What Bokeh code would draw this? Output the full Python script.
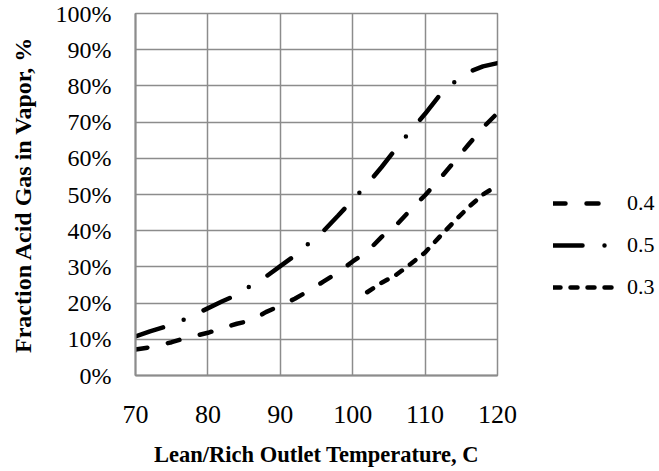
from bokeh.plotting import figure
from bokeh.models import Legend, LegendItem, PrintfTickFormatter, FixedTicker
from bokeh.embed import file_html
from bokeh.resources import INLINE

# ---- data ----
temp_04 = [70, 72, 75, 77, 80, 84, 86, 88, 90, 92, 94, 96, 98, 100, 102, 104, 106, 108, 110, 112, 114, 116, 118, 120]
frac_04 = [7.2, 7.8, 9.2, 10.4, 11.8, 14.3, 15.2, 17.5, 19.3, 21.2, 23.5, 26.0, 28.5, 31.5, 34.2, 38.3, 41.5, 45.8, 49.8, 54.3, 59.0, 63.8, 68.5, 72.5]

temp_05 = [70, 72, 75, 77, 79, 82, 84, 86, 88, 90, 92, 94, 96, 98, 100, 102, 104, 106, 108, 110, 112, 114, 116, 118, 120]
frac_05 = [10.8, 12.2, 14.0, 15.7, 17.6, 20.5, 22.3, 24.9, 27.3, 30.2, 33.1, 36.6, 40.0, 44.2, 48.5, 52.8, 57.6, 62.7, 67.6, 72.3, 77.4, 81.0, 83.8, 85.4, 86.3]

temp_03 = [102, 104, 106, 108, 110, 112, 114, 116, 118, 120]
frac_03 = [23.0, 25.6, 27.8, 30.8, 34.0, 38.3, 42.5, 46.5, 50.0, 52.5]

x_ticks = [70, 80, 90, 100, 110, 120]
y_ticks = [0, 10, 20, 30, 40, 50, 60, 70, 80, 90, 100]

FONT = "Liberation Serif"
GRID = "#8c8c8c"

p = figure(width=659, height=471, output_backend="svg", toolbar_location=None,
           x_range=(70, 120), y_range=(0, 100),
           min_border_left=135, min_border_right=162, min_border_top=13, min_border_bottom=96)
p.frame_width = 362
p.frame_height = 362

p.outline_line_color = GRID
p.outline_line_width = 1.5

p.xaxis.ticker = FixedTicker(ticks=x_ticks)
p.yaxis.ticker = FixedTicker(ticks=y_ticks)
p.yaxis.formatter = PrintfTickFormatter(format="%d%%")

for ax in (p.xaxis[0], p.yaxis[0]):
    ax.axis_line_color = GRID
    ax.axis_line_width = 2
    ax.major_tick_line_color = None
    ax.minor_tick_line_color = None
    ax.major_label_text_font = FONT
    ax.major_label_text_color = "black"
    ax.axis_label_text_font = FONT
    ax.axis_label_text_color = "black"
    ax.axis_label_text_font_style = "bold"

p.xaxis.major_label_text_font_size = "26px"
p.yaxis.major_label_text_font_size = "24px"
p.xaxis.major_label_standoff = 24
p.yaxis.major_label_standoff = 18
p.xaxis.axis_label = "Lean/Rich Outlet Temperature, C"
p.yaxis.axis_label = "Fraction Acid Gas in Vapor, %"
p.xaxis.axis_label_text_font_size = "22.5px"
p.yaxis.axis_label_text_font_size = "24px"
p.xaxis.axis_label_standoff = 16
p.yaxis.axis_label_standoff = 17

p.xgrid.grid_line_color = GRID
p.ygrid.grid_line_color = GRID
p.xgrid.grid_line_width = 1.5
p.ygrid.grid_line_width = 1.5

lw = 4.5
r04 = p.line(temp_04, frac_04, line_color="black", line_width=lw, line_dash="12 21", line_cap="round")
r05 = p.line(temp_05, frac_05, line_color="black", line_width=lw, line_dash="29 22 0 22", line_cap="round")
r03 = p.line(temp_03, frac_03, line_color="black", line_width=lw, line_dash="7 10", line_cap="round")

legend = Legend(items=[LegendItem(label="0.4", renderers=[r04]),
                       LegendItem(label="0.5", renderers=[r05]),
                       LegendItem(label="0.3", renderers=[r03])],
                location=(56, 75))
legend.border_line_color = None
legend.background_fill_alpha = 0
legend.padding = 0
legend.margin = 0
legend.spacing = 16
legend.glyph_width = 62
legend.glyph_height = 20
legend.label_height = 20
legend.label_standoff = 12
legend.label_text_font = FONT
legend.label_text_font_size = "22px"
legend.label_text_color = "black"
p.add_layout(legend, "right")

open("out.html", "w").write(file_html(p, INLINE))
